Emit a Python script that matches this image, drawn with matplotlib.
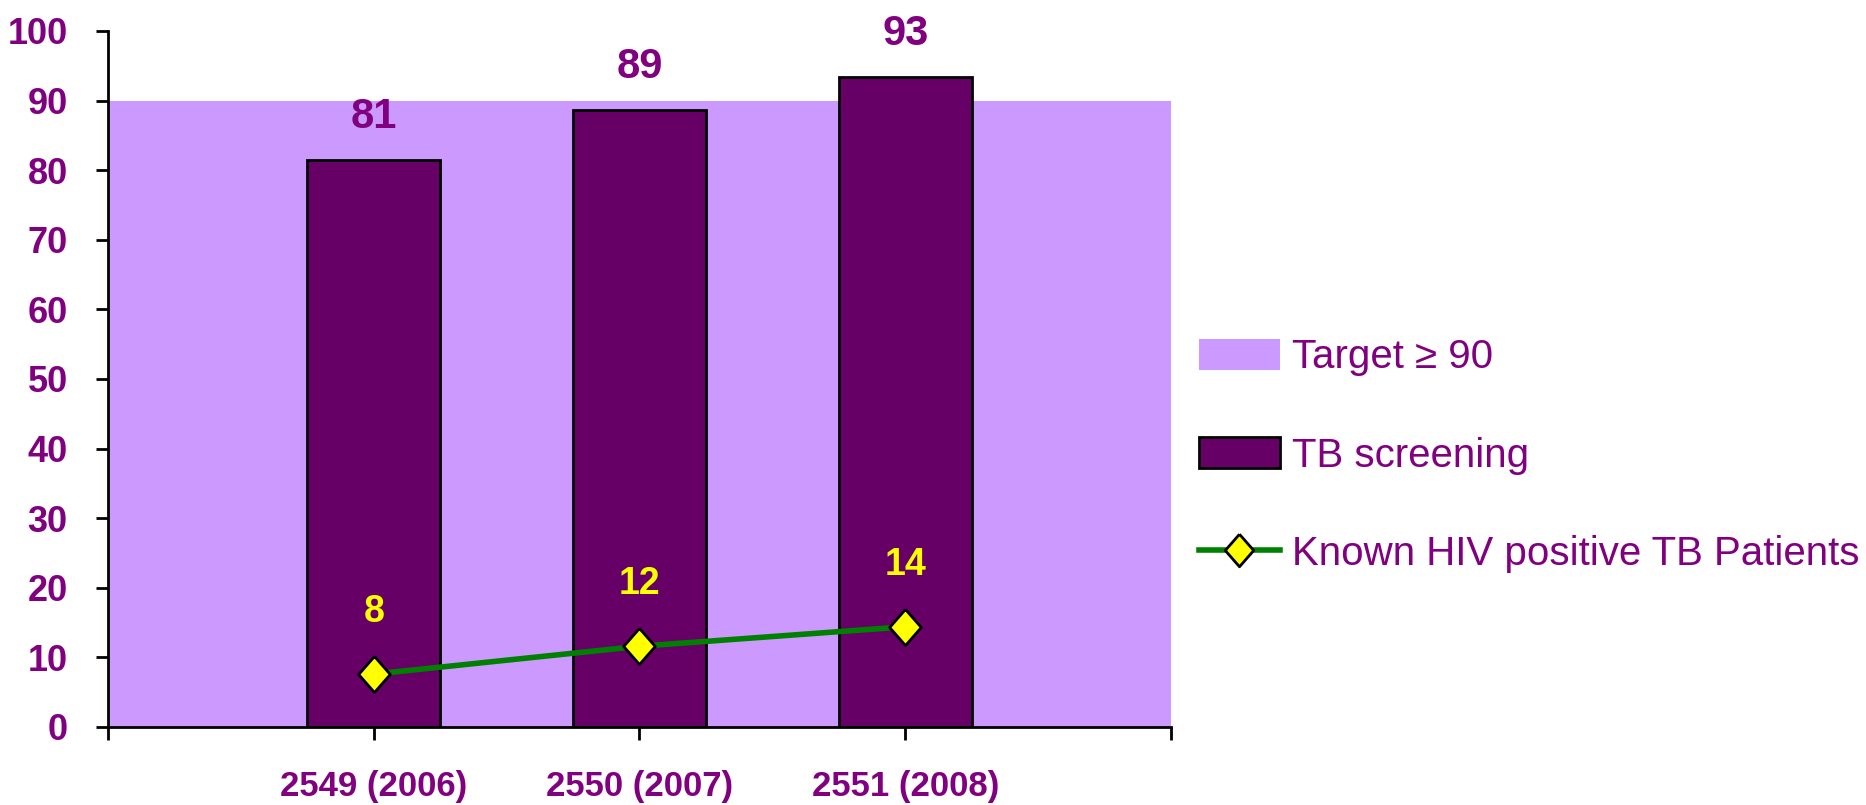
import matplotlib
matplotlib.use('Agg')
import matplotlib.pyplot as plt
import numpy as np

# data
years = ['2549 (2006)', '2550 (2007)', '2551 (2008)']
tb_screening = [81.4, 88.6, 93.4]
hiv_known = [7.6, 11.6, 14.4]
target = 90

purple = '#800080'
plt.rcParams['font.family'] = ['Liberation Sans', 'DejaVu Sans']

fig = plt.figure(figsize=(18.66, 8.05), dpi=100)
ax = fig.add_axes([0.0579, 0.0969, 0.5696, 0.8646])

x = np.arange(len(years))

# slightly tall diamond like the original marker
diamond = [(0, 1), (0.875, 0), (0, -1), (-0.875, 0), (0, 1)]

# target band over the whole plot width
band = ax.fill_between([-1, len(years)], 0, target, color='#CC99FF', lw=0,
                       label='Target \u2265 90', zorder=1)

bars = ax.bar(x, tb_screening, width=0.5, color='#660066', edgecolor='black',
              lw=2, label='TB screening', zorder=2)

line, = ax.plot(x, hiv_known, '-', color='#008000', lw=4, marker=diamond,
                ms=26, mfc='#FFFF00', mec='black', mew=2,
                label='Known HIV positive TB Patients', zorder=3)

for xi, v in zip(x, tb_screening):
    ax.annotate('%.0f' % v, (xi, v), xytext=(0, 31), textcoords='offset points',
                ha='center', va='center', color=purple, fontsize=30,
                fontweight='bold')
for xi, v in zip(x, hiv_known):
    ax.annotate('%.0f' % v, (xi, v), xytext=(0, 44.5), textcoords='offset points',
                ha='center', va='center', color='#FFFF00', fontsize=27,
                fontweight='bold')

ax.set_xlim(-1, len(years))
ax.set_ylim(0, 100)
ax.set_yticks(range(0, 101, 10))
ax.set_xticks(np.arange(-1, len(years) + 1))
ax.set_xticklabels([''] + years + [''])

for s in ['top', 'right']:
    ax.spines[s].set_visible(False)
for s in ['left', 'bottom']:
    ax.spines[s].set_linewidth(2)

ax.tick_params(axis='y', direction='out', length=9, width=2, pad=20,
               labelsize=26, labelcolor=purple)
ax.tick_params(axis='x', direction='out', length=9, width=2, pad=22,
               labelsize=25, labelcolor=purple)
plt.setp(ax.get_xticklabels(), fontweight='bold')
plt.setp(ax.get_yticklabels(), fontweight='bold')

leg = ax.legend([band, bars, line],
                ['Target \u2265 90', 'TB screening', 'Known HIV positive TB Patients'],
                loc='center left', bbox_to_anchor=(0.6426, 0.434),
                bbox_transform=fig.transFigure, frameon=False,
                borderpad=0, borderaxespad=0,
                prop={'size': 29}, labelspacing=1.5, handlelength=2.0,
                handleheight=0.8, handletextpad=0.3, markerscale=0.9)
for t in leg.get_texts():
    t.set_color(purple)

plt.savefig('out.png', dpi=100)
